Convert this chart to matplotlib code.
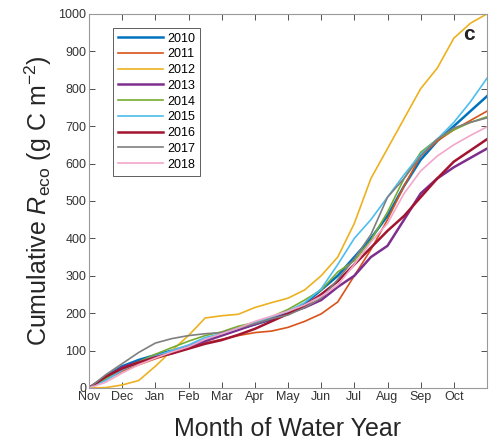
import numpy as np
import matplotlib.pyplot as plt

plt.rcParams["font.family"] = ["Liberation Sans", "DejaVu Sans"]
plt.rcParams["mathtext.fontset"] = "custom"
plt.rcParams["mathtext.rm"] = "Liberation Sans"
plt.rcParams["mathtext.it"] = "Liberation Sans:italic"

# half-month steps from 1 Nov (0) to 31 Oct (12)
month_pos = np.arange(0, 12.5, 0.5)
month_labels = ["Nov", "Dec", "Jan", "Feb", "Mar", "Apr", "May", "Jun", "Jul", "Aug", "Sep", "Oct"]

years = ["2010", "2011", "2012", "2013", "2014", "2015", "2016", "2017", "2018"]
colors = ["#0072BD", "#D95319", "#EDB120", "#7E2F8E", "#77AC30",
          "#4DBEEE", "#A2142F", "#7F7F7F", "#F2A7C9"]

r2010 = [0, 30, 58, 75, 88, 100, 112, 128, 145, 158, 170, 183, 200, 225, 262, 300, 350, 400, 460, 540, 610, 660, 700, 740, 780]
r2011 = [0, 22, 45, 62, 78, 92, 108, 120, 130, 140, 148, 152, 162, 178, 198, 230, 300, 370, 450, 540, 620, 660, 690, 715, 740]
r2012 = [0, 1, 8, 20, 58, 100, 140, 187, 193, 197, 215, 228, 240, 262, 300, 350, 440, 560, 640, 720, 800, 855, 935, 975, 1000]
r2013 = [0, 28, 55, 70, 85, 97, 110, 125, 140, 155, 170, 185, 200, 215, 235, 270, 300, 350, 380, 450, 520, 560, 590, 615, 640]
r2014 = [0, 25, 50, 70, 90, 108, 125, 140, 150, 165, 175, 190, 210, 235, 262, 310, 340, 395, 470, 560, 630, 665, 690, 710, 725]
r2015 = [0, 20, 48, 68, 85, 100, 115, 135, 145, 160, 175, 190, 205, 228, 265, 330, 400, 450, 510, 570, 625, 665, 710, 765, 828]
r2016 = [0, 30, 52, 68, 82, 92, 105, 118, 128, 142, 158, 178, 198, 220, 250, 285, 330, 375, 420, 460, 510, 560, 605, 635, 665]
r2017 = [0, 35, 65, 95, 120, 132, 140, 145, 148, 160, 172, 185, 195, 215, 240, 290, 345, 410, 510, 560, 620, 665, 695, 710, 722]
r2018 = [0, 15, 40, 62, 80, 96, 110, 130, 145, 160, 178, 192, 205, 222, 245, 275, 330, 390, 440, 520, 580, 620, 650, 675, 698]

series = [r2010, r2011, r2012, r2013, r2014, r2015, r2016, r2017, r2018]

fig = plt.figure(figsize=(5, 4.48), dpi=100)
ax = fig.add_axes([0.178, 0.134, 0.796, 0.835])

for yr, vals, c in zip(years, series, colors):
    lw = 1.8 if yr in ("2010", "2013", "2016") else 1.2
    ax.plot(month_pos, vals, color=c, lw=lw, label=yr)

ax.set_xlim(0, 12)
ax.set_ylim(0, 1000)
ax.set_xticks(np.arange(12))
ax.set_xticklabels(month_labels)
ax.set_yticks(np.arange(0, 1001, 100))
ax.tick_params(direction="in", top=True, right=True, length=4, width=0.6,
               labelsize=9, colors="#333333", pad=2)
for s in ax.spines.values():
    s.set_color("#999999")
    s.set_linewidth(0.8)

ax.set_ylabel("Cumulative $\\mathit{R}_{\\mathrm{eco}}$ (g C m$^{-2}$)", fontsize=18,
              color="#262626", labelpad=3)
ax.set_xlabel("Month of Water Year", fontsize=18, color="#262626", labelpad=10)

leg = ax.legend(loc="upper left", bbox_to_anchor=(0.045, 0.98), fontsize=9,
                handlelength=3.6, handletextpad=0.3, labelspacing=0.3,
                borderpad=0.4, fancybox=False, framealpha=1)
leg.get_frame().set_edgecolor("#444444")
leg.get_frame().set_linewidth(0.6)

ax.text(0.955, 0.945, "c", transform=ax.transAxes, fontsize=15,
        fontweight="bold", ha="center", va="center", color="#222222")

fig.savefig("out.png", dpi=100)
